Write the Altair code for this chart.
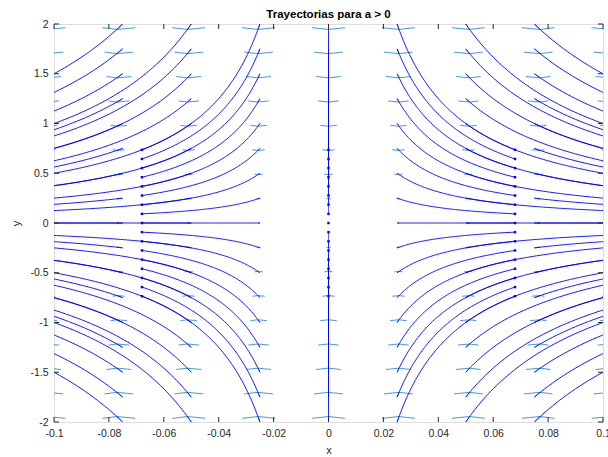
import altair as alt
import numpy as np
import pandas as pd

# ---- values ----
x0_vals = [-0.1, -0.075, -0.05, -0.025, 0.0, 0.025, 0.05, 0.075, 0.1]
y0_vals = [-2.0, -1.75, -1.5, -1.25, -1.0, -0.75, -0.5, -0.25, 0.0,
           0.25, 0.5, 0.75, 1.0, 1.25, 1.5, 1.75, 2.0]
t_end = 1.0            # trajectories end at x0*e (x = +-0.068 for x0 = +-0.025)
quiver_scale = 0.0275  # arrow length factor read from the arrows
x_ticks = [-0.1, -0.08, -0.06, -0.04, -0.02, 0, 0.02, 0.04, 0.06, 0.08, 0.1]
y_ticks = [-2, -1.5, -1, -0.5, 0, 0.5, 1, 1.5, 2]
title_text = "Trayectorias para a > 0"

W, H = 549, 398


def field(x, y):
    # saddle field for a > 0 (a scaled out): x' = a x, y' = -a y
    return x, -y


# trajectories via RK4 from each grid start point
n_steps = 60
dt = t_end / n_steps
traj_rows, end_rows = [], []
tid = 0
for x0 in x0_vals:
    for y0 in y0_vals:
        x, y = x0, y0
        traj_rows.append((tid, 0, x, y))
        for k in range(1, n_steps + 1):
            k1 = field(x, y)
            k2 = field(x + dt / 2 * k1[0], y + dt / 2 * k1[1])
            k3 = field(x + dt / 2 * k2[0], y + dt / 2 * k2[1])
            k4 = field(x + dt * k3[0], y + dt * k3[1])
            x += dt / 6 * (k1[0] + 2 * k2[0] + 2 * k3[0] + k4[0])
            y += dt / 6 * (k1[1] + 2 * k2[1] + 2 * k3[1] + k4[1])
            traj_rows.append((tid, k, x, y))
        end_rows.append((tid, x, y))
        tid += 1
traj = pd.DataFrame(traj_rows, columns=["id", "k", "x", "y"])
ends = pd.DataFrame(end_rows, columns=["id", "x", "y"])
ends = ends[(ends.x.abs() <= 0.1) & (ends.y.abs() <= 2)]

# quiver arrows (shaft + head polyline), MATLAB-style head
alpha, beta, eps = 0.33, 0.33, 1e-12
q_rows = []
qid = 0
for x0 in x0_vals:
    for y0 in y0_vals:
        fx, fy = field(x0, y0)
        u, v = quiver_scale * fx, quiver_scale * fy
        q_rows += [(qid, 0, x0, y0), (qid, 1, x0 + u, y0 + v)]
        qid += 1
        hx = [x0 + u - alpha * (u + beta * (v + eps)), x0 + u,
              x0 + u - alpha * (u - beta * (v + eps))]
        hy = [y0 + v - alpha * (v - beta * (u + eps)), y0 + v,
              y0 + v - alpha * (v + beta * (u + eps))]
        for k in range(3):
            q_rows.append((qid, k, hx[k], hy[k]))
        qid += 1
quiv = pd.DataFrame(q_rows, columns=["id", "k", "x", "y"])

xt = pd.DataFrame({"v": x_ticks})
yt = pd.DataFrame({"v": y_ticks})

FONT = "Liberation Sans"
AX = "#262626"
xs = alt.Scale(domain=[-0.1, 0.1], nice=False, zero=False)
ys = alt.Scale(domain=[-2, 2], nice=False, zero=False)
xaxis = alt.Axis(values=x_ticks, labelExpr="'' + datum.value", ticks=False,
                 domain=False, grid=False, labelFont=FONT, labelFontSize=10.5,
                 labelColor=AX, labelPadding=6, labelFlush=False,
                 labelOverlap=False, title="x", titleFont=FONT,
                 titleFontSize=11, titleFontWeight="normal", titleColor=AX,
                 titlePadding=6)
yaxis = alt.Axis(values=y_ticks, labelExpr="'' + datum.value", ticks=False,
                 domain=False, grid=False, labelFont=FONT, labelFontSize=10.5,
                 labelColor=AX, labelPadding=6, labelFlush=False,
                 labelOverlap=False, title="y", titleFont=FONT,
                 titleFontSize=11, titleFontWeight="normal", titleColor=AX,
                 titlePadding=8)

quiver_layer = alt.Chart(quiv).mark_line(
    clip=True, color="#2f8fd0", strokeWidth=0.9
).encode(
    x=alt.X("x:Q", scale=xs, axis=xaxis),
    y=alt.Y("y:Q", scale=ys, axis=yaxis),
    detail="id:N", order="k:Q",
)
traj_layer = alt.Chart(traj).mark_line(
    clip=True, color="#0000ff", strokeWidth=0.9
).encode(
    x=alt.X("x:Q", scale=xs, axis=xaxis),
    y=alt.Y("y:Q", scale=ys, axis=yaxis),
    detail="id:N", order="k:Q",
)
dot_layer = alt.Chart(ends).mark_square(
    clip=True, color="#0000ff", size=6, opacity=1
).encode(
    x=alt.X("x:Q", scale=xs, axis=xaxis),
    y=alt.Y("y:Q", scale=ys, axis=yaxis),
)

tk = dict(color=AX, strokeWidth=1)
xt_bottom = alt.Chart(xt).mark_rule(**tk).encode(
    x=alt.X("v:Q", scale=xs, axis=xaxis), y=alt.value(H), y2=alt.value(H - 5))
xt_top = alt.Chart(xt).mark_rule(**tk).encode(
    x=alt.X("v:Q", scale=xs, axis=xaxis), y=alt.value(0), y2=alt.value(5))
yt_left = alt.Chart(yt).mark_rule(**tk).encode(
    y=alt.Y("v:Q", scale=ys, axis=yaxis), x=alt.value(0), x2=alt.value(5))
yt_right = alt.Chart(yt).mark_rule(**tk).encode(
    y=alt.Y("v:Q", scale=ys, axis=yaxis), x=alt.value(W), x2=alt.value(W - 5))

chart = alt.layer(
    quiver_layer, traj_layer, dot_layer, xt_bottom, xt_top, yt_left, yt_right
).properties(
    width=W, height=H,
    title=alt.TitleParams(title_text, font=FONT, fontSize=11.5,
                          fontWeight="bold", color="black", anchor="middle",
                          offset=-1),
    autosize=alt.AutoSizeParams(type="none"),
    padding={"left": 54, "top": 24, "right": 5, "bottom": 35},
).configure_view(
    stroke=AX, strokeWidth=1
).configure(background="white")

chart.save("out.html", embed_options={"renderer": "svg", "actions": False})
